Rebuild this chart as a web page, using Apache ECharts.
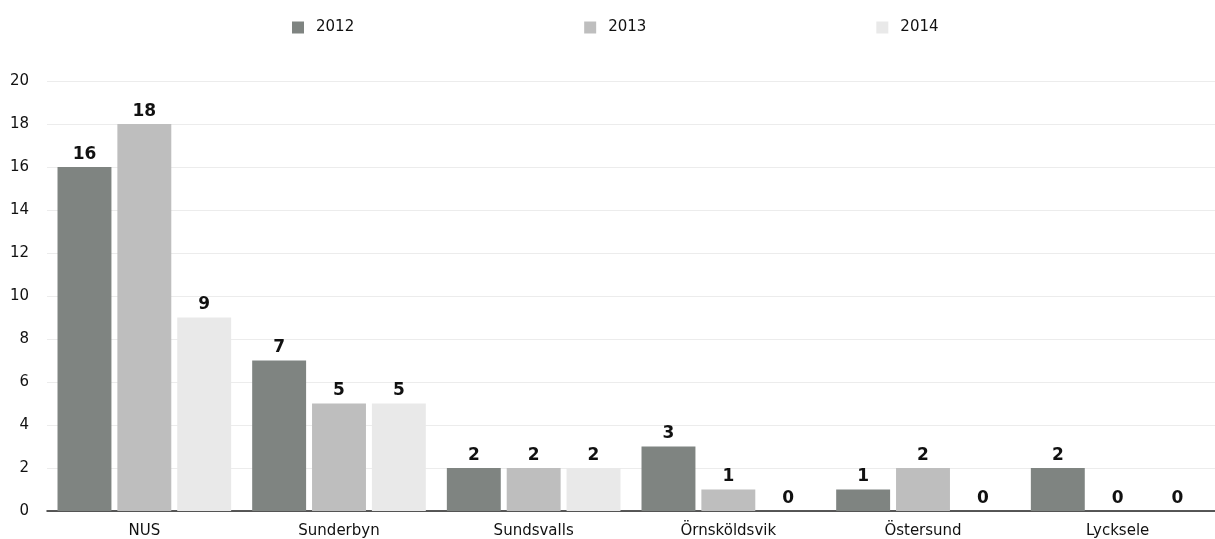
<!DOCTYPE html>
<html>
<head>
<meta charset="utf-8">
<script src="https://cdn.jsdelivr.net/npm/echarts@6/dist/echarts.min.js"></script>
<style>
html,body{margin:0;padding:0;background:#fff;}
#c{width:1215px;height:539px;}
</style>
</head>
<body>
<div id="c"></div>
<script>
const categories = ['NUS', 'Sunderbyn', 'Sundsvalls', 'Örnsköldsvik', 'Östersund', 'Lycksele'];
const seriesNames = ['2012', '2013', '2014'];
const values2012 = [16, 7, 2, 3, 1, 2];
const values2013 = [18, 5, 2, 1, 2, 0];
const values2014 = [9, 5, 2, 0, 0, 0];
const colors = ['#7f8481', '#bebebe', '#e9e9e9'];
const yTicks = [0, 2, 4, 6, 8, 10, 12, 14, 16, 18, 20];

const allValues = [values2012, values2013, values2014];
const chart = echarts.init(document.getElementById('c'), null, {renderer: 'canvas'});
const font = 'DejaVu Sans, Liberation Sans, Arial, sans-serif';

chart.setOption({
  animation: false,
  backgroundColor: '#ffffff',
  color: colors,
  legend: {
    top: 15,
    left: 287,
    itemWidth: 12,
    itemHeight: 12,
    itemGap: 230,
    icon: 'rect',
    data: seriesNames,
    textStyle: {fontFamily: font, fontSize: 15, color: '#111', padding: [0, 0, 0, 7]}
  },
  grid: {left: 47, right: -2, top: 81, bottom: 28, containLabel: false},
  xAxis: {
    type: 'category',
    data: categories,
    axisTick: {show: false},
    axisLine: {lineStyle: {color: '#222', width: 1.5}},
    axisLabel: {fontFamily: font, fontSize: 15, color: '#111', margin: 13}
  },
  yAxis: {
    type: 'value',
    min: yTicks[0],
    max: yTicks[yTicks.length - 1],
    interval: 2,
    axisLine: {show: false},
    axisTick: {show: false},
    splitLine: {lineStyle: {color: '#ececec', width: 1}},
    axisLabel: {fontFamily: font, fontSize: 15, color: '#111', margin: 18}
  },
  series: seriesNames.map((name, i) => ({
    name: name,
    type: 'bar',
    data: allValues[i],
    barGap: '11%',
    barCategoryGap: '10.8%',
    itemStyle: {color: colors[i]},
    label: {
      show: true,
      position: 'top',
      distance: 4,
      fontFamily: font,
      fontSize: 17,
      fontWeight: 'bold',
      color: '#111'
    }
  }))
});
</script>
</body>
</html>
